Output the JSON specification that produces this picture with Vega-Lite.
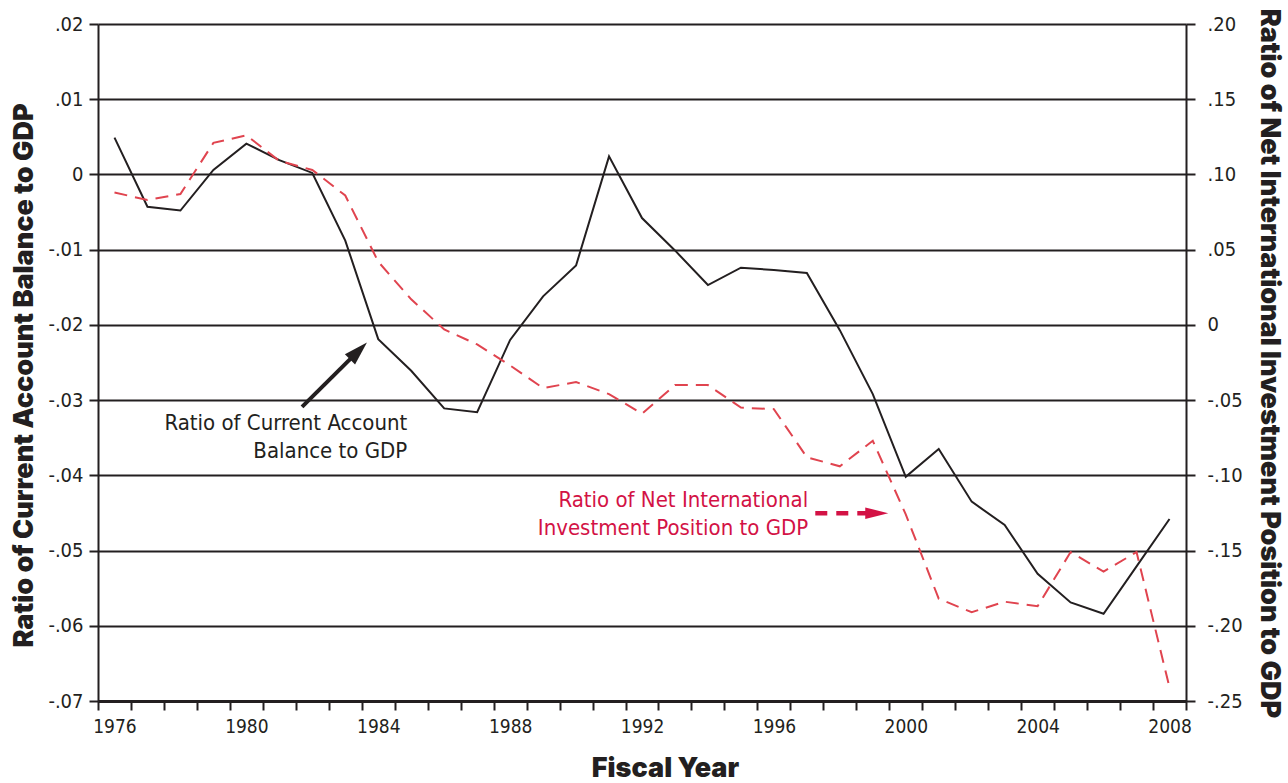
{
  "$schema": "https://vega.github.io/schema/vega-lite/v6.json",
  "autosize": {"type": "none"},
  "width": 1088,
  "height": 677,
  "padding": {"left": 98, "top": 24, "right": 102, "bottom": 82},
  "background": "white",
  "config": {
    "view": {"stroke": null},
    "axis": {
      "labelFont": "Liberation Sans Narrow, DejaVu Sans Condensed, Arial Narrow, sans-serif",
      "labelFontSize": 19,
      "labelColor": "#231f20",
      "titleFont": "Inter, Liberation Sans, Arial, sans-serif",
      "titleFontWeight": 900,
      "titleColor": "#231f20",
      "domainColor": "#231f20",
      "tickColor": "#231f20"
    }
  },
  "datasets": {
    "main": [
      {"year": 1976, "ca": 0.0049, "niip": 0.088},
      {"year": 1977, "ca": -0.0043, "niip": 0.083},
      {"year": 1978, "ca": -0.0048, "niip": 0.087},
      {"year": 1979, "ca": 0.0006, "niip": 0.121},
      {"year": 1980, "ca": 0.0041, "niip": 0.126},
      {"year": 1981, "ca": 0.0019, "niip": 0.109},
      {"year": 1982, "ca": 0.0002, "niip": 0.103},
      {"year": 1983, "ca": -0.0088, "niip": 0.086},
      {"year": 1984, "ca": -0.0219, "niip": 0.042},
      {"year": 1985, "ca": -0.0261, "niip": 0.017},
      {"year": 1986, "ca": -0.0311, "niip": -0.003},
      {"year": 1987, "ca": -0.0316, "niip": -0.013},
      {"year": 1988, "ca": -0.0220, "niip": -0.027},
      {"year": 1989, "ca": -0.0162, "niip": -0.042},
      {"year": 1990, "ca": -0.0121, "niip": -0.038},
      {"year": 1991, "ca": 0.0024, "niip": -0.046},
      {"year": 1992, "ca": -0.0058, "niip": -0.059},
      {"year": 1993, "ca": -0.0101, "niip": -0.040},
      {"year": 1994, "ca": -0.0147, "niip": -0.040},
      {"year": 1995, "ca": -0.0124, "niip": -0.055},
      {"year": 1996, "ca": -0.0127, "niip": -0.056},
      {"year": 1997, "ca": -0.0131, "niip": -0.088},
      {"year": 1998, "ca": -0.0207, "niip": -0.094},
      {"year": 1999, "ca": -0.0292, "niip": -0.077},
      {"year": 2000, "ca": -0.0402, "niip": -0.126},
      {"year": 2001, "ca": -0.0365, "niip": -0.182},
      {"year": 2002, "ca": -0.0435, "niip": -0.191},
      {"year": 2003, "ca": -0.0466, "niip": -0.184},
      {"year": 2004, "ca": -0.0531, "niip": -0.187},
      {"year": 2005, "ca": -0.0569, "niip": -0.151},
      {"year": 2006, "ca": -0.0584, "niip": -0.164},
      {"year": 2007, "ca": -0.0521, "niip": -0.151},
      {"year": 2008, "ca": -0.0458, "niip": -0.241}
    ]
  },
  "encoding": {
    "x": {
      "field": "year",
      "type": "quantitative",
      "scale": {"domain": [1975.5, 2008.5], "nice": false, "zero": false},
      "axis": {
        "title": "Fiscal Year",
        "titleFontSize": 27,
        "titleX": 567,
        "titleY": 54,
        "titleAlign": "center",
        "titleBaseline": "top",
        "values": [1975.5, 1976.5, 1977.5, 1978.5, 1979.5, 1980.5, 1981.5, 1982.5, 1983.5, 1984.5, 1985.5, 1986.5, 1987.5, 1988.5, 1989.5, 1990.5, 1991.5, 1992.5, 1993.5, 1994.5, 1995.5, 1996.5, 1997.5, 1998.5, 1999.5, 2000.5, 2001.5, 2002.5, 2003.5, 2004.5, 2005.5, 2006.5, 2007.5, 2008.5],
        "labelExpr": "(datum.value + 0.5) % 4 == 0 ? toString(datum.value + 0.5) : ''",
        "labelOffset": 16.5,
        "labelOverlap": false,
        "labelFlush": false,
        "labelPadding": 7,
        "labelFontSize": 19,
        "grid": false,
        "domainWidth": 3,
        "tickSize": 9,
        "tickWidth": 2
      }
    }
  },
  "layer": [
    {
      "data": {"name": "main"},
      "mark": {"type": "line", "color": "#231f20", "strokeWidth": 2},
      "encoding": {
        "y": {
          "field": "ca",
          "type": "quantitative",
          "scale": {"domain": [-0.07, 0.02], "nice": false, "zero": false},
          "axis": {
            "orient": "left",
            "title": "Ratio of Current Account Balance to GDP",
            "titleFontSize": 27,
            "titleAngle": -90,
            "titleX": -66,
            "titleY": 351,
            "titleAlign": "center",
            "titleBaseline": "alphabetic",
            "values": [-0.07, -0.06, -0.05, -0.04, -0.03, -0.02, -0.01, 0, 0.01, 0.02],
            "labelExpr": "abs(datum.value) < 1e-9 ? '0' : (datum.value < 0 ? '-' : '') + replace(format(abs(datum.value), '.2f'), '0.', '.')",
            "grid": true,
            "gridColor": "#231f20",
            "gridWidth": 2,
            "gridOpacity": 1,
            "domainWidth": 2,
            "tickSize": 9,
            "tickWidth": 2,
            "labelPadding": 6,
            "labelFontSize": 20
          }
        }
      }
    },
    {
      "data": {"name": "main"},
      "mark": {"type": "line", "color": "#e0444f", "strokeWidth": 2, "strokeDash": [13, 8]},
      "encoding": {
        "y": {
          "field": "niip",
          "type": "quantitative",
          "scale": {"domain": [-0.25, 0.2], "nice": false, "zero": false},
          "axis": {
            "orient": "right",
            "title": "Ratio of Net International Investment Position to GDP",
            "titleFontSize": 27,
            "titleAngle": 90,
            "titleX": 74,
            "titleY": 339,
            "titleAlign": "center",
            "titleBaseline": "alphabetic",
            "values": [-0.25, -0.2, -0.15, -0.1, -0.05, 0, 0.05, 0.1, 0.15, 0.2],
            "labelExpr": "abs(datum.value) < 1e-9 ? '0' : (datum.value < 0 ? '-' : '') + replace(format(abs(datum.value), '.2f'), '0.', '.')",
            "labelAlign": "left",
            "grid": false,
            "domainWidth": 2,
            "tickSize": 9,
            "tickWidth": 2,
            "labelPadding": 12,
            "labelFontSize": 20
          }
        }
      }
    },
    {
      "data": {"values": [{"year": 1981.688, "value": -0.03089, "year2": 1983.4, "value2": -0.02346}]},
      "mark": {"type": "rule", "color": "#231f20", "strokeWidth": 4},
      "encoding": {
        "y": {"field": "value", "type": "quantitative", "scale": {"domain": [-0.07, 0.02], "nice": false, "zero": false}, "axis": null},
        "x2": {"field": "year2"},
        "y2": {"field": "value2"}
      }
    },
    {
      "data": {"values": [{"year": 1983.4, "value": -0.02346}]},
      "mark": {"type": "point", "shape": "M-1,-0.6L1,0L-1,0.6Z", "size": 576, "angle": -45, "filled": true, "color": "#231f20", "opacity": 1},
      "encoding": {
        "y": {"field": "value", "type": "quantitative", "scale": {"domain": [-0.07, 0.02], "nice": false, "zero": false}, "axis": null}
      }
    },
    {
      "data": {"values": [{"year": 1997.256, "value": -0.04503, "year2": 1998.83, "value2": -0.04503}]},
      "mark": {"type": "rule", "color": "#d31245", "strokeWidth": 4.5, "strokeDash": [12, 9]},
      "encoding": {
        "y": {"field": "value", "type": "quantitative", "scale": {"domain": [-0.07, 0.02], "nice": false, "zero": false}, "axis": null},
        "x2": {"field": "year2"},
        "y2": {"field": "value2"}
      }
    },
    {
      "data": {"values": [{"year": 1999.121, "value": -0.04503}]},
      "mark": {"type": "point", "shape": "M-1,-0.5L1,0L-1,0.5Z", "size": 529, "filled": true, "color": "#d31245", "opacity": 1},
      "encoding": {
        "y": {"field": "value", "type": "quantitative", "scale": {"domain": [-0.07, 0.02], "nice": false, "zero": false}, "axis": null}
      }
    },
    {
      "data": {"values": [
        {"year": 1984.88, "value": -0.03394, "label": ["Ratio of Current Account", "Balance to GDP"], "series": "ca"},
        {"year": 1997.04, "value": -0.04425, "label": ["Ratio of Net International", "Investment Position to GDP"], "series": "niip"}
      ]},
      "mark": {"type": "text", "align": "right", "baseline": "alphabetic", "font": "Liberation Sans Narrow, DejaVu Sans Condensed, Arial Narrow, sans-serif", "fontSize": 22, "lineHeight": 28},
      "encoding": {
        "y": {"field": "value", "type": "quantitative", "scale": {"domain": [-0.07, 0.02], "nice": false, "zero": false}, "axis": null},
        "text": {"field": "label"},
        "color": {"field": "series", "type": "nominal", "scale": {"domain": ["ca", "niip"], "range": ["#231f20", "#d31245"]}, "legend": null}
      }
    }
  ],
  "resolve": {"scale": {"y": "independent"}}
}
